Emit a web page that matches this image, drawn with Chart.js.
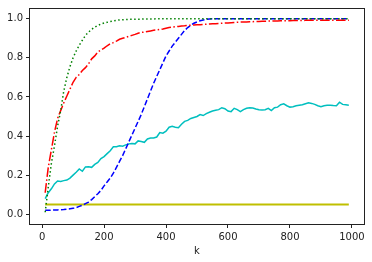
<!DOCTYPE html>
<html>
<head>
<meta charset="utf-8">
<script src="https://cdn.jsdelivr.net/npm/chart.js@4.4.0/dist/chart.umd.min.js"></script>
<style>
  html, body { margin: 0; padding: 0; background: #fff; }
  #wrap { width: 372px; height: 262px; }
</style>
</head>
<body>
<div id="wrap"><canvas id="chart" width="372" height="262"></canvas></div>
<script>
// k values (x axis)
const ks = [
  10, 20, 30, 40, 50, 60, 70, 80, 90, 100,
  110, 120, 130, 140, 150, 160, 170, 180, 190, 200,
  210, 220, 230, 240, 250, 260, 270, 280, 290, 300,
  310, 320, 330, 340, 350, 360, 370, 380, 390, 400,
  410, 420, 430, 440, 450, 460, 470, 480, 490, 500,
  510, 520, 530, 540, 550, 560, 570, 580, 590, 600,
  610, 620, 630, 640, 650, 660, 670, 680, 690, 700,
  710, 720, 730, 740, 750, 760, 770, 780, 790, 800,
  810, 820, 830, 840, 850, 860, 870, 880, 890, 900,
  910, 920, 930, 940, 950, 960, 970, 980, 990
];

// green dotted
const greenVals = [
  0.01, 0.14, 0.26, 0.35, 0.45, 0.53, 0.63, 0.70, 0.755, 0.80,
  0.835, 0.865, 0.89, 0.915, 0.932, 0.946, 0.957, 0.966, 0.973, 0.978,
  0.982, 0.986, 0.989, 0.992, 0.994, 0.995, 0.996, 0.997, 0.997, 0.998,
  0.998, 0.998, 0.999, 0.999, 0.999, 0.999, 1, 1, 1, 1,
  1, 1, 1, 1, 1, 1, 1, 1, 1, 1,
  1, 1, 1, 1, 1, 1, 1, 1, 1, 1,
  1, 1, 1, 1, 1, 1, 1, 1, 1, 1,
  1, 1, 1, 1, 1, 1, 1, 1, 1, 1,
  1, 1, 1, 1, 1, 1, 1, 1, 1, 1,
  1, 1, 1, 1, 1, 1, 1, 1, 1
];

// red dash-dot
const redVals = [
  0.11, 0.24, 0.33, 0.42, 0.49, 0.53, 0.57, 0.605, 0.64, 0.675,
  0.70, 0.715, 0.735, 0.75, 0.77, 0.795, 0.81, 0.83, 0.84, 0.85,
  0.862, 0.872, 0.878, 0.886, 0.895, 0.90, 0.905, 0.91, 0.915, 0.92,
  0.926, 0.93, 0.932, 0.935, 0.938, 0.941, 0.943, 0.945, 0.948, 0.952,
  0.955, 0.957, 0.959, 0.961, 0.963, 0.964, 0.966, 0.967, 0.968, 0.969,
  0.970, 0.971, 0.972, 0.973, 0.974, 0.975, 0.976, 0.977, 0.978, 0.979,
  0.980, 0.981, 0.982, 0.983, 0.983, 0.984, 0.985, 0.985, 0.986, 0.986,
  0.987, 0.987, 0.988, 0.988, 0.989, 0.989, 0.990, 0.990, 0.990, 0.990,
  0.991, 0.991, 0.991, 0.991, 0.992, 0.992, 0.992, 0.992, 0.992, 0.993,
  0.993, 0.993, 0.993, 0.993, 0.993, 0.993, 0.993, 0.993, 0.993
];

// blue dashed
const blueVals = [
  0.02, 0.02, 0.021, 0.022, 0.022, 0.023, 0.024, 0.026, 0.028, 0.03,
  0.034, 0.04, 0.046, 0.054, 0.062, 0.075, 0.09, 0.105, 0.122, 0.145,
  0.165, 0.185, 0.21, 0.24, 0.27, 0.30, 0.335, 0.37, 0.405, 0.44,
  0.475, 0.51, 0.55, 0.59, 0.63, 0.67, 0.705, 0.74, 0.775, 0.81,
  0.835, 0.86, 0.88, 0.90, 0.92, 0.94, 0.955, 0.967, 0.977, 0.984,
  0.99, 0.994, 0.997, 0.999, 1, 1, 1, 1, 1, 1,
  1, 1, 1, 1, 1, 1, 1, 1, 1, 1,
  1, 1, 1, 1, 1, 1, 1, 1, 1, 1,
  1, 1, 1, 1, 1, 1, 1, 1, 1, 1,
  1, 1, 1, 1, 1, 1, 1, 1, 1
];

// cyan solid (noisy)
const cyanVals = [
  0.08, 0.11, 0.13, 0.155, 0.17, 0.168, 0.172, 0.175, 0.185, 0.20,
  0.215, 0.232, 0.22, 0.242, 0.243, 0.24, 0.255, 0.265, 0.285, 0.295,
  0.31, 0.325, 0.345, 0.345, 0.35, 0.348, 0.355, 0.36, 0.362, 0.36,
  0.375, 0.372, 0.368, 0.385, 0.39, 0.39, 0.395, 0.418, 0.415, 0.425,
  0.445, 0.45, 0.445, 0.443, 0.46, 0.475, 0.48, 0.49, 0.495, 0.50,
  0.51, 0.505, 0.515, 0.522, 0.528, 0.532, 0.535, 0.545, 0.54, 0.528,
  0.525, 0.542, 0.535, 0.525, 0.535, 0.542, 0.545, 0.543, 0.538, 0.535,
  0.533, 0.535, 0.542, 0.53, 0.545, 0.548, 0.56, 0.565, 0.555, 0.548,
  0.55, 0.555, 0.558, 0.56, 0.565, 0.57, 0.567, 0.562, 0.555, 0.55,
  0.555, 0.557, 0.558, 0.556, 0.555, 0.573, 0.562, 0.56, 0.558
];

// yellow flat line
const yellowKs = [10, 990];
const yellowVals = [0.05, 0.05];

const xTicks = [0, 200, 400, 600, 800, 1000];
const yTicks = [0.0, 0.2, 0.4, 0.6, 0.8, 1.0];

function pts(xs, ys) {
  return xs.map((x, i) => ({ x: x, y: ys[i] }));
}

// matplotlib-style box round the plot
const frame = {
  id: 'frame',
  afterDraw(chart) {
    const a = chart.chartArea;
    const ctx = chart.ctx;
    ctx.save();
    ctx.strokeStyle = '#222';
    ctx.lineWidth = 1;
    ctx.strokeRect(Math.round(a.left) - 0.5, Math.round(a.top) - 0.5,
      Math.round(a.right - a.left) + 1, Math.round(a.bottom - a.top) + 1);
    ctx.restore();
  }
};

const tickFont = { family: 'DejaVu Sans', size: 10 };

new Chart(document.getElementById('chart'), {
  type: 'line',
  data: {
    datasets: [
      { data: pts(ks, greenVals), borderColor: '#008000', borderWidth: 1.5, borderDash: [1.5, 2.5] },
      { data: pts(ks, redVals), borderColor: '#ff0000', borderWidth: 1.5, borderDash: [9.6, 2.4, 1.5, 2.4] },
      { data: pts(ks, blueVals), borderColor: '#0000ff', borderWidth: 1.5, borderDash: [5.5, 2.4] },
      { data: pts(ks, cyanVals), borderColor: '#00bfbf', borderWidth: 1.5 },
      { data: pts(yellowKs, yellowVals), borderColor: '#bfbf00', borderWidth: 2 }
    ]
  },
  options: {
    responsive: false,
    animation: false,
    devicePixelRatio: 1,
    layout: { padding: { top: 6, right: 8, left: 0, bottom: 0 } },
    elements: { point: { radius: 0 }, line: { tension: 0, fill: false } },
    plugins: { legend: { display: false }, tooltip: { enabled: false } },
    scales: {
      x: {
        type: 'linear',
        min: -39,
        max: 1039,
        afterBuildTicks: s => { s.ticks = xTicks.map(v => ({ value: v })); },
        afterFit: s => { s.height = 38; },
        ticks: { font: tickFont, color: '#222', padding: 3, maxRotation: 0, callback: v => String(v) },
        grid: { drawOnChartArea: false, tickLength: 4, color: '#222', lineWidth: 1 },
        border: { display: false },
        title: { display: true, text: 'k', font: tickFont, color: '#222', padding: { top: 0, bottom: 5 } }
      },
      y: {
        min: -0.05,
        max: 1.05,
        afterBuildTicks: s => { s.ticks = yTicks.map(v => ({ value: v })); },
        afterFit: s => { s.width = 30; },
        ticks: { font: tickFont, color: '#222', padding: 3, callback: v => v.toFixed(1) },
        grid: { drawOnChartArea: false, tickLength: 4, color: '#222', lineWidth: 1 },
        border: { display: false }
      }
    }
  },
  plugins: [frame]
});
</script>
</body>
</html>
